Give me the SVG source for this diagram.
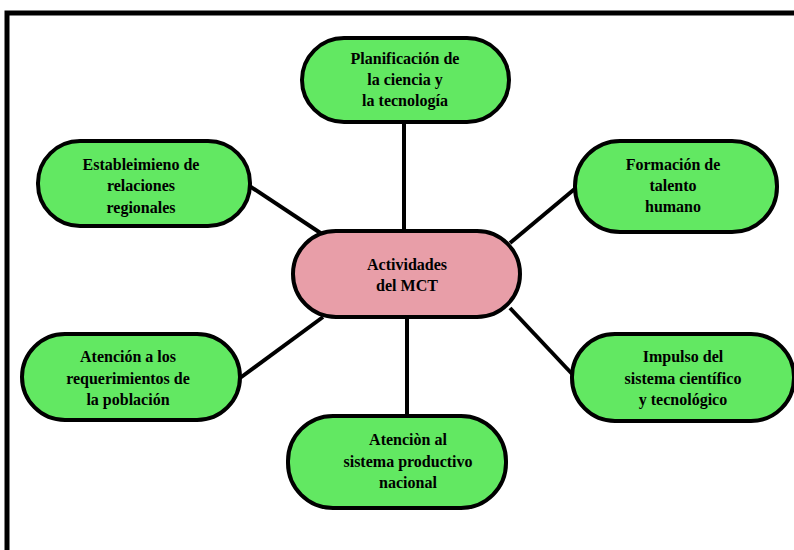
<svg xmlns="http://www.w3.org/2000/svg" width="794" height="550" viewBox="0 0 794 550">
  <style>
    .node { fill: #62e862; stroke: #000; stroke-width: 4; }
    .hub { fill: #e89ea8; stroke: #000; stroke-width: 4; }
    .link { stroke: #000; stroke-width: 4; fill: none; }
    text { font-family: "Liberation Serif", "DejaVu Serif", serif; font-weight: bold; font-size: 16px; fill: #000; text-anchor: middle; }
  </style>
  <rect width="794" height="550" fill="#fff"/>
  <!-- frame -->
  <path d="M7 550 V13 H794" fill="none" stroke="#000" stroke-width="5"/>

  <g id="connectors">
    <line class="link" x1="404" y1="122" x2="404" y2="232"/>
    <line class="link" x1="248" y1="185" x2="322" y2="234"/>
    <line class="link" x1="577" y1="187" x2="510" y2="243"/>
    <line class="link" x1="240" y1="378" x2="323" y2="317"/>
    <line class="link" x1="574" y1="376" x2="510" y2="308"/>
    <line class="link" x1="407" y1="315" x2="407" y2="416"/>
  </g>

  <g id="hub">
    <rect class="hub" x="293" y="231" width="227" height="86" rx="43"/>
    <text x="407" y="270">Actividades</text>
    <text x="407" y="291">del MCT</text>
  </g>

  <g id="planificacion">
    <rect class="node" x="302" y="38" width="207" height="84" rx="42"/>
    <text x="405" y="64">Planificación de</text>
    <text x="405" y="85">la ciencia y</text>
    <text x="405" y="106">la tecnología</text>
  </g>

  <g id="relaciones">
    <rect class="node" x="38" y="141" width="212" height="85" rx="42"/>
    <text x="141" y="170">Estableimieno de</text>
    <text x="141" y="191">relaciones</text>
    <text x="141" y="213">regionales</text>
  </g>

  <g id="talento">
    <rect class="node" x="575" y="141" width="202" height="91" rx="45"/>
    <text x="673" y="170">Formación de</text>
    <text x="673" y="191">talento</text>
    <text x="673" y="212">humano</text>
  </g>

  <g id="requerimientos">
    <rect class="node" x="22" y="334" width="218" height="86" rx="43"/>
    <text x="128" y="362">Atención a los</text>
    <text x="128" y="384">requerimientos de</text>
    <text x="128" y="405">la población</text>
  </g>

  <g id="impulso">
    <rect class="node" x="572" y="334" width="222" height="87" rx="43"/>
    <text x="683" y="362">Impulso del</text>
    <text x="683" y="384">sistema científico</text>
    <text x="683" y="405">y tecnológico</text>
  </g>

  <g id="productivo">
    <rect class="node" x="288" y="416" width="218" height="92" rx="45"/>
    <text x="408" y="445">Atenciòn al</text>
    <text x="408" y="467">sistema productivo</text>
    <text x="408" y="488">nacional</text>
  </g>
</svg>
